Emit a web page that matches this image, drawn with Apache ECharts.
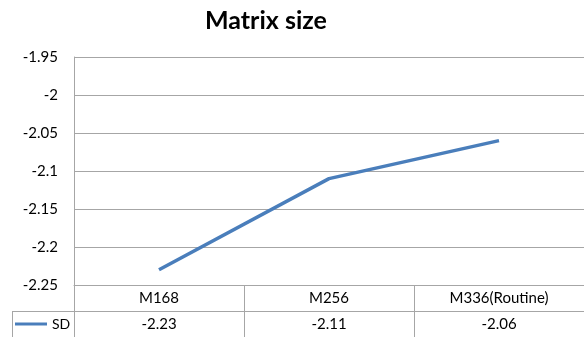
<!DOCTYPE html>
<html>
<head>
<meta charset="utf-8">
<script src="https://cdn.jsdelivr.net/npm/echarts@6/dist/echarts.min.js"></script>
<style>
  html, body { margin: 0; padding: 0; background: #fff; }
  #chart { width: 584px; height: 337px; }
</style>
</head>
<body>
<div id="chart"></div>
<script>
// Matrix size vs SD, shown as a line with a data table underneath
const categories = ['M168', 'M256', 'M336(Routine)'];
const sdValues = [-2.23, -2.11, -2.06];
const seriesName = 'SD';
const yMin = -2.25, yMax = -1.95, yStep = 0.05;

const FONT = 'Lato, "Open Sans", sans-serif';
const GRID = '#a6a6a6';
const BLUE = '#4a7ebb';

const chart = echarts.init(document.getElementById('chart'), null, { renderer: 'canvas' });

const gridLeft = 74, gridTop = 57, gridBottom = 52, rowH = 26.5;

chart.setOption({
  animation: false,
  backgroundColor: '#fff',
  title: {
    text: 'Matrix size',
    left: 200, top: 3,
    textStyle: { fontFamily: FONT, fontWeight: 'bold', fontSize: 25, color: '#000' }
  },
  legend: {
    data: [{ name: seriesName, icon: 'rect' }],
    left: 15, top: 317, padding: 0,
    itemWidth: 32, itemHeight: 3,
    itemGap: 0,
    textStyle: { fontFamily: FONT, fontSize: 14, color: '#000' }
  },
  grid: { left: gridLeft, right: -2, top: gridTop, bottom: gridBottom, containLabel: false },
  xAxis: [
    {
      type: 'category',
      data: categories,
      position: 'bottom',
      boundaryGap: true,
      axisLine: { show: true, lineStyle: { color: GRID, width: 1 } },
      axisTick: { show: true, inside: false, length: 60, alignWithLabel: false, lineStyle: { color: GRID, width: 1 } },
      axisLabel: { margin: 13, verticalAlign: 'middle', fontFamily: FONT, fontSize: 15, color: '#000' },
      splitLine: { show: false }
    },
    {
      type: 'category',
      data: sdValues.map(v => String(v)),
      position: 'bottom',
      offset: rowH,
      boundaryGap: true,
      axisLine: { show: true, lineStyle: { color: GRID, width: 1 } },
      axisTick: { show: false },
      axisLabel: { margin: 13, verticalAlign: 'middle', fontFamily: FONT, fontSize: 15, color: '#000' },
      splitLine: { show: false }
    }
  ],
  yAxis: {
    type: 'value',
    min: yMin, max: yMax, interval: yStep,
    axisLine: { show: true, lineStyle: { color: GRID, width: 1 } },
    axisTick: { show: false },
    axisLabel: {
      margin: 16,
      fontFamily: FONT, fontSize: 15, color: '#000',
      formatter: v => String(+v.toFixed(2))
    },
    splitLine: { show: true, lineStyle: { color: GRID, width: 1 } }
  },
  series: [{
    name: seriesName,
    type: 'line',
    data: sdValues,
    showSymbol: false,
    symbol: 'none',
    lineStyle: { color: BLUE, width: 3.5 },
    itemStyle: { color: BLUE }
  }],
  graphic: [
    // legend cell borders of the data table
    { type: 'line', shape: { x1: 12, y1: 311.5, x2: gridLeft, y2: 311.5 }, style: { stroke: GRID, lineWidth: 1 } },
    { type: 'line', shape: { x1: 12.5, y1: 311.5, x2: 12.5, y2: 340 }, style: { stroke: GRID, lineWidth: 1 } }
  ]
});
</script>
</body>
</html>
